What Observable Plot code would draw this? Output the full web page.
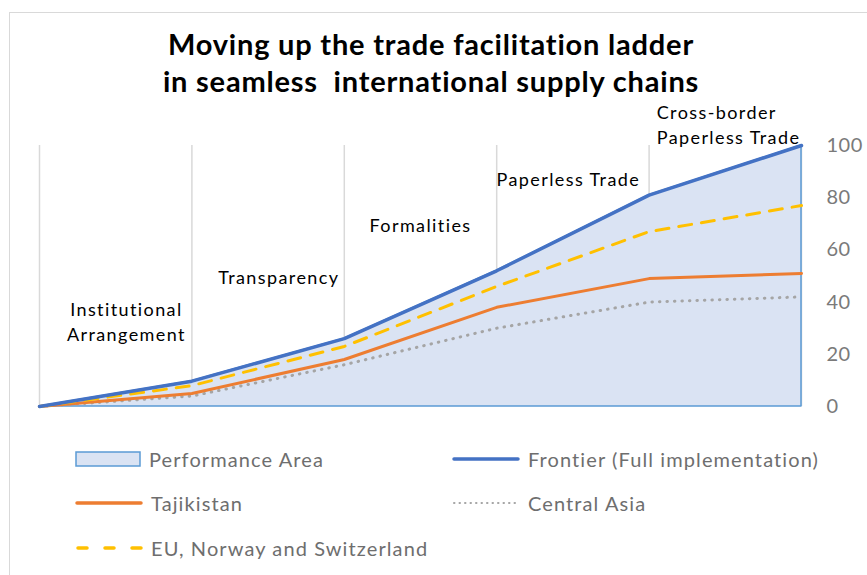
<!DOCTYPE html>
<html>
<head>
<meta charset="utf-8">
<script src="https://cdn.jsdelivr.net/npm/d3@7"></script>
<script src="https://cdn.jsdelivr.net/npm/@observablehq/plot@0.6"></script>
<style>
  html, body { margin: 0; padding: 0; background: #fff; }
  #wrap { position: relative; width: 867px; height: 575px; overflow: hidden; font-family: Lato, "Open Sans", sans-serif; }
  #frame { position: absolute; left: 9px; top: 12px; width: 900px; height: 600px; border-left: 1.5px solid #d9d9d9; border-top: 1.5px solid #d9d9d9; }
  #title { position: absolute; left: 0; top: 25px; width: 862px; text-align: center; font-weight: bold; font-size: 29px; letter-spacing: 0.8px; line-height: 37px; color: #000; white-space: pre; }
  #chart { position: absolute; left: 0; top: 100px; }
  .leg { position: absolute; display: flex; align-items: center; font-size: 20px; letter-spacing: 1.1px; color: #6e6e6e; white-space: nowrap; }
  .leg svg { margin-right: 8px; }
</style>
</head>
<body>
<div id="wrap">
  <div id="frame"></div>
  <div id="title">Moving up the trade facilitation ladder
in seamless  international supply chains</div>
  <div id="chart"></div>
  <div id="legend"></div>
</div>
<script>
// ---- data ----
const stages = ["Institutional\nArrangement", "Transparency", "Formalities", "Paperless Trade", "Cross-border\nPaperless Trade"];
const steps = [0, 1, 2, 3, 4, 5];
const frontier = [0, 9.7, 26, 52, 81, 100];
const euNorwaySwitzerland = [0, 8, 23, 46, 67, 77];
const tajikistan = [0, 5, 18, 38, 49, 51];
const centralAsia = [0, 4, 16, 30, 40, 42];
const yTicks = [0, 20, 40, 60, 80, 100];

// ---- tables ----
const rows = (vals) => steps.map((s, i) => ({x: s, y: vals[i]}));
const frontierRows = rows(frontier);
const euRows = rows(euNorwaySwitzerland);
const tjRows = rows(tajikistan);
const caRows = rows(centralAsia);

// annotation layout (label placement within each stage, in chart units)
const labelLayout = [
  {dx: 0.57, y: 33, anchor: "middle"},
  {dx: 0.57, y: 50, anchor: "middle"},
  {dx: 0.5, y: 70, anchor: "middle"},
  {dx: 0.47, y: 87.5, anchor: "middle"},
  {dx: 0.05, y: 108.5, anchor: "start"}
];
const labels = stages.map((t, i) => ({text: t, x: steps[i] + labelLayout[i].dx, y: labelLayout[i].y, anchor: labelLayout[i].anchor}));

const plot = Plot.plot({
  width: 867,
  height: 330,
  marginTop: 45,
  marginBottom: 24,
  marginLeft: 39,
  marginRight: 66,
  x: {domain: [0, 5], axis: null},
  y: {domain: [0, 100]},
  style: {fontFamily: "Lato, 'Open Sans', sans-serif", background: "transparent", overflow: "visible"},
  marks: [
    Plot.ruleX(steps, {x: d => d, y1: 0, y2: 100, stroke: "#d9d9d9", strokeWidth: 1.5}),
    Plot.areaY(frontierRows, {x: "x", y: "y", fill: "#dae3f3", stroke: "#5b9bd5", strokeWidth: 1.5}),
    Plot.line(caRows, {x: "x", y: "y", stroke: "#a5a5a5", strokeWidth: 3, strokeDasharray: "0.5 7", strokeLinecap: "round"}),
    Plot.line(tjRows, {x: "x", y: "y", stroke: "#ed7d31", strokeWidth: 3}),
    Plot.line(euRows, {x: "x", y: "y", stroke: "#ffc000", strokeWidth: 3, strokeDasharray: "13 10"}),
    Plot.line(frontierRows, {x: "x", y: "y", stroke: "#4472c4", strokeWidth: 3.5}),
    Plot.text(labels.filter(d => d.anchor === "middle"), {x: "x", y: "y", text: "text", fontSize: 18, fill: "#000", textAnchor: "middle", lineHeight: 1.38}),
    Plot.text(labels.filter(d => d.anchor === "start"), {x: "x", y: "y", text: "text", fontSize: 18, fill: "#000", textAnchor: "start", lineHeight: 1.38}),
    Plot.axisY({anchor: "right", ticks: yTicks, tickSize: 0, tickPadding: 25, fontSize: 20, color: "#7a7a7a", label: null})
  ]
});
d3.select(plot).selectAll('g[aria-label="text"] text').style("letter-spacing", "1.4px");
d3.select(plot).selectAll('g[aria-label="y-axis tick label"] text').style("letter-spacing", "0.5px");
document.getElementById("chart").appendChild(plot);

// ---- legend ----
const legendItems = [
  {name: "Performance Area", kind: "area", left: 75, top: 459},
  {name: "Frontier (Full implementation)", kind: "solid", color: "#4472c4", left: 452, top: 459},
  {name: "Tajikistan", kind: "solid", color: "#ed7d31", left: 75, top: 503},
  {name: "Central Asia", kind: "dot", color: "#a5a5a5", left: 452, top: 503},
  {name: "EU, Norway and Switzerland", kind: "dash", color: "#ffc000", left: 75, top: 548}
];
const legend = document.getElementById("legend");
for (const it of legendItems) {
  const div = document.createElement("div");
  div.className = "leg";
  div.style.left = it.left + "px";
  div.style.top = (it.top - 12) + "px";
  div.style.height = "24px";
  let sw;
  if (it.kind === "area") {
    sw = `<svg width="66" height="18"><rect x="1" y="2" width="64" height="14" fill="#dae3f3" stroke="#5b9bd5" stroke-width="1.5"/></svg>`;
  } else if (it.kind === "solid") {
    sw = `<svg width="68" height="18"><line x1="2" y1="9" x2="66" y2="9" stroke="${it.color}" stroke-width="3.5" stroke-linecap="round"/></svg>`;
  } else if (it.kind === "dot") {
    sw = `<svg width="68" height="18"><line x1="2" y1="9" x2="66" y2="9" stroke="${it.color}" stroke-width="2" stroke-dasharray="0.5 5" stroke-linecap="round"/></svg>`;
  } else {
    sw = `<svg width="68" height="18"><line x1="3" y1="9" x2="66" y2="9" stroke="${it.color}" stroke-width="3.5" stroke-dasharray="9 18" stroke-linecap="round"/></svg>`;
  }
  div.innerHTML = sw + `<span>${it.name}</span>`;
  legend.appendChild(div);
}
</script>
</body>
</html>
